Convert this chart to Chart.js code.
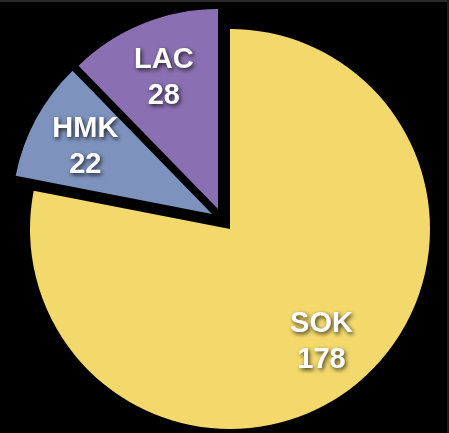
<!DOCTYPE html>
<html>
<head>
<meta charset="utf-8">
<script src="https://cdn.jsdelivr.net/npm/chart.js@4.4.1/dist/chart.umd.min.js"></script>
<style>
  html, body { margin: 0; padding: 0; background: #000; }
  #wrap {
    position: relative;
    width: 449px;
    height: 433px;
    background: #000;
    overflow: hidden;
  }
  /* thin grey window edges */
  #wrap::before {
    content: "";
    position: absolute;
    left: 0; top: 0; right: 0;
    height: 2px;
    background: #2b2829;
  }
  #wrap::after {
    content: "";
    position: absolute;
    right: 0; top: 0; bottom: 0;
    width: 2px;
    background: #1c1a1b;
  }
  canvas { position: absolute; left: 0; top: 0; }
</style>
</head>
<body>
<div id="wrap"><canvas id="pieChart" width="449" height="433"></canvas></div>
<script>
// Slice data, clockwise from 12 o'clock
const groups = ["SOK", "HMK", "LAC"];
const counts = [178, 22, 28];

const sliceColors = ["#f3d96c", "#7d92bd", "#8a70b2"];
// how far each slice is pulled out of the pie, [dx, dy] in px
const sliceShift = [[0, 0], [-18, -15], [-12, -20]];

// Pull slices out along their own vector instead of the mid-angle
const explodePlugin = {
    id: "explode",
    beforeDatasetDraw(chart, args) {
        args.meta.data.forEach((arc, i) => {
            if (arc._shifted) return;
            const [dx, dy] = sliceShift[i];
            const baseDraw = arc.draw;
            arc.draw = function (ctx, area) {
                ctx.save();
                ctx.translate(dx, dy);
                baseDraw.call(this, ctx, area);
                ctx.restore();
            };
            arc._shifted = true;
        });
    }
};

// Name + count written inside each slice
const sliceLabels = {
    id: "sliceLabels",
    afterDatasetsDraw(chart) {
        const ctx = chart.ctx;
        const meta = chart.getDatasetMeta(0);
        meta.data.forEach((arc, i) => {
            const p = arc.getProps(["x", "y", "startAngle", "endAngle", "outerRadius"], true);
            const mid = (p.startAngle + p.endAngle) / 2;
            const r = p.outerRadius * 0.72;
            const cx = p.x + Math.cos(mid) * r + sliceShift[i][0];
            const cy = p.y + Math.sin(mid) * r + sliceShift[i][1];

            ctx.save();
            ctx.font = "bold 29px 'Liberation Sans', Arial, sans-serif";
            ctx.fillStyle = "#ffffff";
            ctx.textAlign = "center";
            ctx.textBaseline = "middle";
            ctx.shadowColor = "rgba(0, 0, 0, 0.75)";
            ctx.shadowBlur = 4;
            ctx.shadowOffsetX = 1.5;
            ctx.shadowOffsetY = 2;
            ctx.fillText(groups[i], cx, cy - 16);
            ctx.fillText(String(counts[i]), cx, cy + 20);
            ctx.restore();
        });
    }
};

new Chart(document.getElementById("pieChart"), {
    type: "pie",
    data: {
        labels: groups,
        datasets: [{
            data: counts,
            backgroundColor: sliceColors,
            borderWidth: 0
        }]
    },
    options: {
        responsive: false,
        animation: false,
        radius: 200,
        layout: { padding: { left: 11, top: 25, right: 0, bottom: 0 } },
        plugins: {
            legend: { display: false },
            tooltip: { enabled: false }
        }
    },
    plugins: [explodePlugin, sliceLabels]
});
</script>
</body>
</html>
